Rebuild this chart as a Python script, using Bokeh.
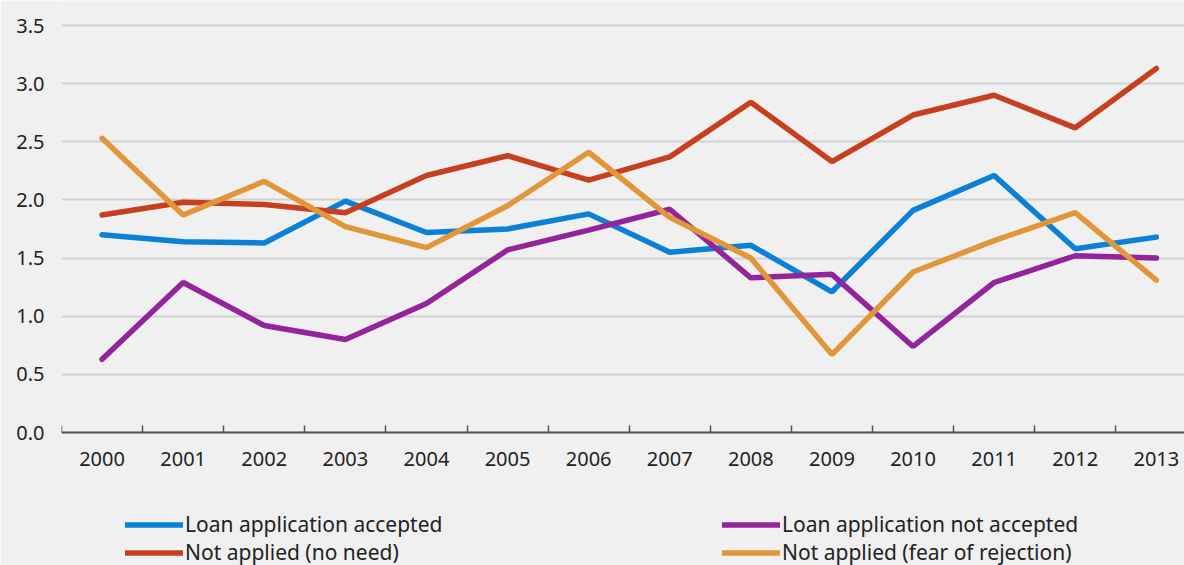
from bokeh.plotting import figure
from bokeh.models import Range1d, FixedTicker, Legend, LegendItem
from bokeh.embed import file_html
from bokeh.resources import INLINE

years = list(range(2000, 2014))
year_labels = [str(y) for y in years]
accepted = [1.70, 1.64, 1.63, 1.99, 1.72, 1.75, 1.88, 1.55, 1.61, 1.21, 1.91, 2.21, 1.58, 1.68]
not_accepted = [0.63, 1.29, 0.92, 0.80, 1.11, 1.57, 1.74, 1.92, 1.33, 1.36, 0.74, 1.29, 1.52, 1.50]
no_need = [1.87, 1.98, 1.96, 1.89, 2.21, 2.38, 2.17, 2.37, 2.84, 2.33, 2.73, 2.90, 2.62, 3.13]
fear = [2.53, 1.87, 2.16, 1.77, 1.59, 1.95, 2.41, 1.85, 1.50, 0.67, 1.38, 1.65, 1.89, 1.31]
y_ticks = [0.0, 0.5, 1.0, 1.5, 2.0, 2.5, 3.0, 3.5]
y_labels = ["0.0", "0.5", "1.0", "1.5", "2.0", "2.5", "3.0", "3.5"]
names = ["Loan application accepted", "Loan application not accepted",
         "Not applied (no need)", "Not applied (fear of rejection)"]
colors = ["#0a80d6", "#93249b", "#c6401f", "#e2963a"]

FONT = "Noto Sans"
BG = "#f0f0f0"
FS = "20px"

W, H = 1184, 565
LEFT = 61
PX_PER_UNIT = 407 / 3.5
p = figure(width=W, height=H, output_backend="svg", toolbar_location=None,
           x_range=Range1d(1999.5, 1999.5 + (W - LEFT) / 81.1),
           y_range=Range1d(-(H - 432) / PX_PER_UNIT, 3.5 + 25 / PX_PER_UNIT),
           min_border_left=LEFT, min_border_right=0, min_border_top=0,
           min_border_bottom=0)
p.background_fill_color = BG
p.border_fill_color = BG
p.outline_line_color = None

series = [accepted, not_accepted, no_need, fear]
renderers = []
for vals, c in zip(series, colors):
    r = p.line(years, vals, line_color=c, line_width=5.5, line_cap="round")
    renderers.append(r)

# grid
p.xgrid.grid_line_color = None
p.ygrid.ticker = FixedTicker(ticks=y_ticks)
p.ygrid.grid_line_color = "#d2d2d2"
p.ygrid.grid_line_width = 2

# y axis
p.yaxis.ticker = FixedTicker(ticks=y_ticks)
p.yaxis.major_label_overrides = {t: l for t, l in zip(y_ticks, y_labels)}
p.yaxis.axis_line_color = None
p.yaxis.major_tick_line_color = None
p.yaxis.minor_tick_line_color = None
p.yaxis.major_tick_in = 0
p.yaxis.major_tick_out = 0
p.yaxis.major_label_standoff = 17
p.yaxis.major_label_text_font = FONT
p.yaxis.major_label_text_font_size = FS
p.yaxis.major_label_text_color = "#222222"

# x axis (fixed at y = 0, takes no border space)
p.xaxis.fixed_location = 0
p.xaxis.ticker = FixedTicker(ticks=years, minor_ticks=[y - 0.5 for y in years])
p.xaxis.major_label_overrides = {y: l for y, l in zip(years, year_labels)}
p.xaxis.axis_line_color = "#555555"
p.xaxis.axis_line_width = 2
p.xaxis.major_tick_line_color = None
p.xaxis.major_tick_in = 0
p.xaxis.major_tick_out = 0
p.xaxis.minor_tick_line_color = "#555555"
p.xaxis.minor_tick_line_width = 1.5
p.xaxis.minor_tick_in = 7
p.xaxis.minor_tick_out = 0
p.xaxis.major_label_standoff = 19
p.xaxis.major_label_text_font = FONT
p.xaxis.major_label_text_font_size = FS
p.xaxis.major_label_text_color = "#222222"

def make_legend(items, loc):
    return Legend(items=items, location=loc, orientation="vertical",
                  padding=0, margin=0, spacing=0,
                  glyph_width=58, glyph_height=27, label_height=27,
                  label_standoff=2, border_line_color=None,
                  background_fill_alpha=0, label_text_font=FONT,
                  label_text_font_size="21px", label_text_color="#222222")

lg1 = make_legend([LegendItem(label=names[0], renderers=[renderers[0]]),
                   LegendItem(label=names[2], renderers=[renderers[2]])], (64, -1))
lg2 = make_legend([LegendItem(label=names[1], renderers=[renderers[1]]),
                   LegendItem(label=names[3], renderers=[renderers[3]])], (661, -1))
p.add_layout(lg1, "center")
p.add_layout(lg2, "center")

open("out.html", "w").write(file_html(p, INLINE))
